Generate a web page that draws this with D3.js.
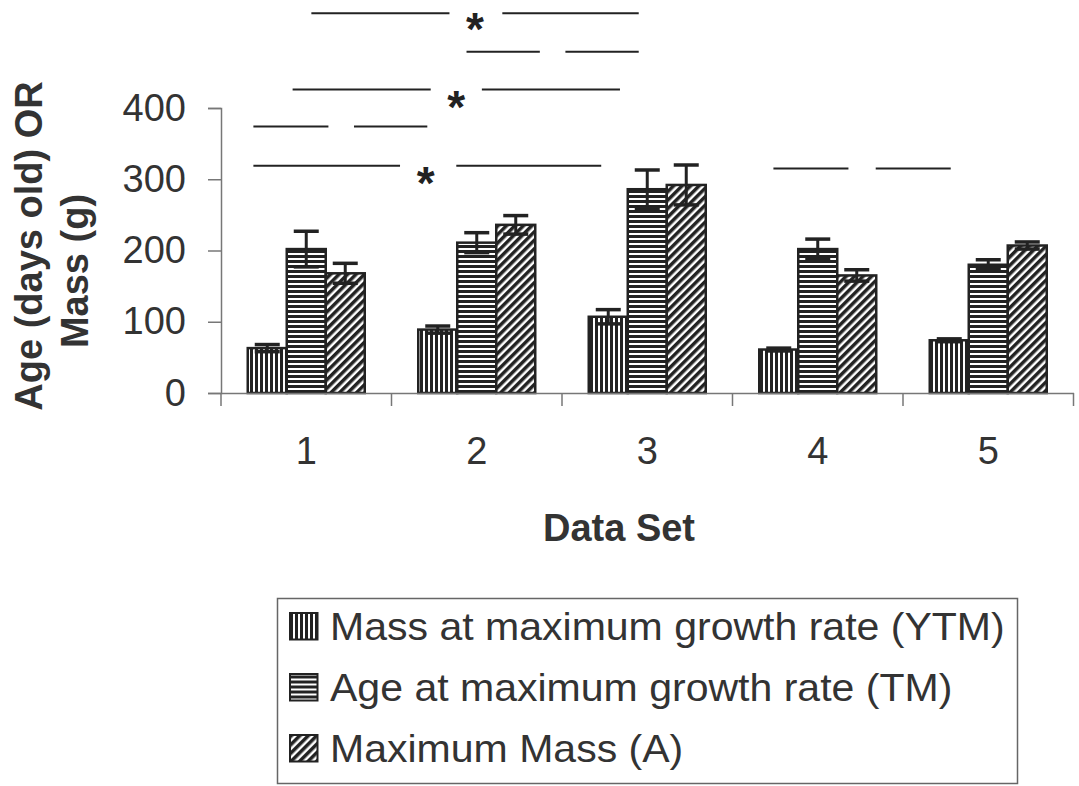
<!DOCTYPE html>
<html>
<head>
<meta charset="utf-8">
<script src="https://cdn.jsdelivr.net/npm/d3@7"></script>
<style>
  body { margin: 0; background: #fff; }
  svg { display: block; font-family: "Liberation Sans", Arial, sans-serif; }
</style>
</head>
<body>
<div id="chart"></div>
<script>
// data
const dataSets = ['1', '2', '3', '4', '5']
const seriesNames = [
  'Mass at maximum growth rate (YTM)',
  'Age at maximum growth rate (TM)',
  'Maximum Mass (A)'
]
const ytmValues = [63, 89, 107, 61, 74]
const ytmErrors = [5, 5, 10, 2, 2]
const tmValues = [202, 211, 286, 202, 180]
const tmErrors = [25, 14, 27, 14, 7]
const aValues = [168, 236, 292, 165, 207]
const aErrors = [14, 13, 28, 8, 5]
const yTicks = [0, 100, 200, 300, 400]

// significance bars, x in data-set units, y in axis units
const sigSegments = [
  {y: 533, x1: 1.03, x2: 1.84}, {y: 533, x1: 2.15, x2: 2.95},
  {y: 479, x1: 1.94, x2: 2.37}, {y: 479, x1: 2.52, x2: 2.95},
  {y: 426, x1: 0.92, x2: 1.73}, {y: 426, x1: 2.03, x2: 2.84},
  {y: 374, x1: 0.69, x2: 1.13}, {y: 374, x1: 1.28, x2: 1.71},
  {y: 319, x1: 0.69, x2: 1.55}, {y: 319, x1: 1.88, x2: 2.73},
  {y: 315, x1: 3.74, x2: 4.18}, {y: 315, x1: 4.34, x2: 4.78}
]
const sigStars = [
  {x: 1.99, y: 526},
  {x: 1.88, y: 416},
  {x: 1.70, y: 310}
]

const series = [
  {name: seriesNames[0], values: ytmValues, errors: ytmErrors, fill: 'url(#vert)'},
  {name: seriesNames[1], values: tmValues, errors: tmErrors, fill: 'url(#horiz)'},
  {name: seriesNames[2], values: aValues, errors: aErrors, fill: 'url(#diag)'}
]

const width = 1079
const height = 786
const ink = '#222'
const textCol = '#333'
const plot = {left: 221, right: 1073.5, top: 108, bottom: 393}

const svg = d3.select('#chart').append('svg')
    .attr('width', width)
    .attr('height', height)

svg.append('rect').attr('width', width).attr('height', height).attr('fill', '#fff')

// hatch patterns
const defs = svg.append('defs')
const vert = defs.append('pattern').attr('id', 'vert')
    .attr('patternUnits', 'userSpaceOnUse').attr('width', 5).attr('height', 5)
vert.append('rect').attr('width', 5).attr('height', 5).attr('fill', '#fff')
vert.append('rect').attr('width', 3).attr('height', 5).attr('fill', ink)

const horiz = defs.append('pattern').attr('id', 'horiz')
    .attr('patternUnits', 'userSpaceOnUse').attr('width', 5).attr('height', 5)
horiz.append('rect').attr('width', 5).attr('height', 5).attr('fill', '#fff')
horiz.append('rect').attr('width', 5).attr('height', 3).attr('fill', ink)

const diag = defs.append('pattern').attr('id', 'diag')
    .attr('patternUnits', 'userSpaceOnUse').attr('width', 6).attr('height', 6)
    .attr('patternTransform', 'rotate(45)')
diag.append('rect').attr('width', 6).attr('height', 6).attr('fill', '#fff')
diag.append('rect').attr('width', 3.5).attr('height', 6).attr('fill', ink)

// scales
const x = d3.scaleBand().domain(dataSets).range([plot.left, plot.right])
const xSub = d3.scaleBand().domain(d3.range(series.length))
    .range([0, x.bandwidth()]).paddingInner(0).paddingOuter(0.686)
const xc = d3.scaleLinear().domain([0.5, dataSets.length + 0.5]).range([plot.left, plot.right])
const y = d3.scaleLinear().domain([0, 400]).range([plot.bottom, plot.top])

// bars
const groups = svg.append('g').selectAll('g')
    .data(series)
    .join('g')

groups.selectAll('rect')
    .data((s, i) => s.values.map((v, j) => ({v, e: s.errors[j], cat: dataSets[j], i, fill: s.fill})))
    .join('rect')
    .attr('x', d => x(d.cat) + xSub(d.i))
    .attr('y', d => y(d.v))
    .attr('width', xSub.bandwidth())
    .attr('height', d => y(0) - y(d.v))
    .attr('fill', d => d.fill)
    .attr('stroke', ink)
    .attr('stroke-width', 2.5)

// error bars (both directions, Excel style)
const capW = 25
groups.each(function (s, i) {
  const g = d3.select(this)
  s.values.forEach((v, j) => {
    const cx = x(dataSets[j]) + xSub(i) + xSub.bandwidth() / 2
    const e = s.errors[j]
    g.append('line')
        .attr('x1', cx).attr('x2', cx)
        .attr('y1', y(v + e)).attr('y2', y(v - e))
        .attr('stroke', ink).attr('stroke-width', 3)
    ;[v + e, v - e].forEach(t => {
      g.append('line')
          .attr('x1', cx - capW / 2).attr('x2', cx + capW / 2)
          .attr('y1', y(t)).attr('y2', y(t))
          .attr('stroke', ink).attr('stroke-width', 3.5)
    })
  })
})

// axes
const axisCol = '#777'
const yAxis = svg.append('g')
    .attr('transform', `translate(${plot.left},0)`)
    .call(d3.axisLeft(y).tickValues(yTicks).tickSize(13).tickPadding(22))
yAxis.select('.domain').attr('stroke', axisCol).attr('stroke-width', 1.5)
yAxis.selectAll('.tick line').attr('stroke', axisCol).attr('stroke-width', 1.5)
yAxis.selectAll('.tick text')
    .attr('font-size', 38).attr('fill', textCol)
    .attr('font-family', '"Liberation Sans", Arial, sans-serif')

const xAxis = svg.append('g')
    .attr('transform', `translate(0,${plot.bottom})`)
    .call(d3.axisBottom(x).tickSize(0).tickPadding(44))
xAxis.select('.domain').attr('stroke', axisCol).attr('stroke-width', 1.5)
xAxis.selectAll('.tick text')
    .attr('font-size', 38).attr('fill', textCol)
    .attr('font-family', '"Liberation Sans", Arial, sans-serif')
// ticks between data sets
xAxis.selectAll('.sep')
    .data(d3.range(dataSets.length + 1))
    .join('line')
    .attr('x1', i => plot.left + i * x.step())
    .attr('x2', i => plot.left + i * x.step())
    .attr('y1', 0).attr('y2', 13)
    .attr('stroke', axisCol).attr('stroke-width', 1.5)

// axis titles
svg.append('text')
    .attr('x', 619).attr('y', 541)
    .attr('text-anchor', 'middle')
    .attr('font-size', 38).attr('font-weight', 'bold').attr('fill', textCol)
    .text('Data Set')

svg.append('text')
    .attr('transform', 'translate(42,246) rotate(-90)')
    .attr('text-anchor', 'middle')
    .attr('font-size', 38).attr('font-weight', 'bold').attr('fill', textCol)
    .text('Age (days old) OR')
svg.append('text')
    .attr('transform', 'translate(88,271) rotate(-90)')
    .attr('text-anchor', 'middle')
    .attr('font-size', 38).attr('font-weight', 'bold').attr('fill', textCol)
    .text('Mass (g)')

// significance annotations
svg.append('g').selectAll('line')
    .data(sigSegments)
    .join('line')
    .attr('x1', d => xc(d.x1)).attr('x2', d => xc(d.x2))
    .attr('y1', d => y(d.y)).attr('y2', d => y(d.y))
    .attr('stroke', ink).attr('stroke-width', 2)

const starSize = 46
svg.append('g').selectAll('text')
    .data(sigStars)
    .join('text')
    .attr('x', d => xc(d.x))
    .attr('y', d => y(d.y) + starSize * 0.575)
    .attr('text-anchor', 'middle')
    .attr('font-size', starSize).attr('font-weight', 'bold').attr('fill', ink)
    .text('*')

// legend
const legend = svg.append('g')
legend.append('rect')
    .attr('x', 277.5).attr('y', 598.5)
    .attr('width', 740).attr('height', 185)
    .attr('fill', '#fff').attr('stroke', '#666').attr('stroke-width', 1.5)

const items = legend.selectAll('g.item')
    .data(series)
    .join('g')
    .attr('class', 'item')
    .attr('transform', (d, i) => `translate(0,${639.5 + i * 61})`)
items.append('rect')
    .attr('x', 290).attr('y', -26.5)
    .attr('width', 27.5).attr('height', 26.5)
    .attr('fill', d => d.fill).attr('stroke', ink).attr('stroke-width', 2)
const labels = items.append('text')
    .attr('x', 0).attr('y', 0)
    .attr('font-size', 39).attr('fill', textCol)
    .text(d => d.name)
// the scan is a little wider than the font; stretch to the same width
const stretch = 675 / labels.node().getComputedTextLength()
labels.attr('transform', `translate(330,0) scale(${stretch},1)`)
</script>
</body>
</html>
